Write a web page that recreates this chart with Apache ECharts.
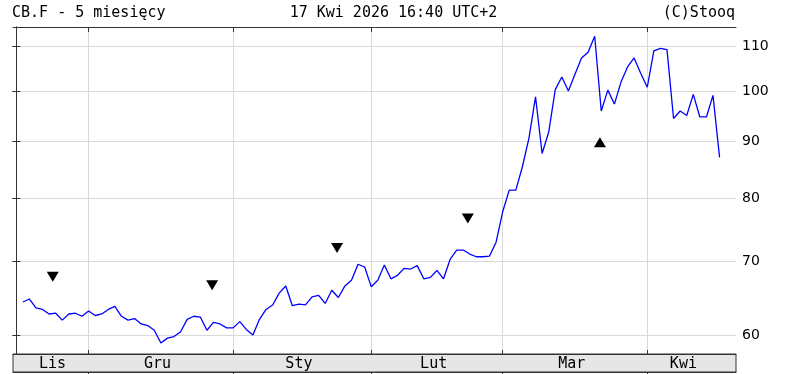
<!DOCTYPE html>
<html><head><meta charset="utf-8">
<script src="https://cdn.jsdelivr.net/npm/echarts@6/dist/echarts.min.js"></script>
<style>html,body{margin:0;padding:0;background:#fff}#c{width:787px;height:374px}</style>
</head><body><div id="c"></div>
<script>
// ---- data ----
const titleText = 'CB.F - 5 miesięcy';
const dateText = '17 Kwi 2026 16:40 UTC+2';
const sourceText = '(C)Stooq';
const monthLabels = ['Lis', 'Gru', 'Sty', 'Lut', 'Mar', 'Kwi'];
const monthCounts = [10, 22, 21, 20, 22, 12];
const prices = [
  64.3, 64.7, 63.5, 63.3, 62.7, 62.8, 61.9, 62.7, 62.8, 62.4,
  63.1, 62.5, 62.7, 63.3, 63.7, 62.4, 61.9, 62.1, 61.4, 61.2,
  60.6, 59.0, 59.6, 59.8, 60.4, 62.0, 62.4, 62.3, 60.6, 61.6,
  61.4, 60.9, 60.9, 61.7, 60.7, 60.0, 62.0, 63.3, 63.9, 65.5,
  66.5, 63.8, 64.0, 63.9, 65.0, 65.2, 64.1, 65.9, 64.9, 66.5,
  67.3, 69.6, 69.2, 66.4, 67.3, 69.5, 67.5, 68.0, 69.0, 68.9,
  69.4, 67.5, 67.7, 68.7, 67.5, 70.3, 71.7, 71.7, 71.1, 70.7,
  70.7, 70.8, 72.9, 77.7, 81.3, 81.3, 85.4, 90.7, 98.9, 87.8,
  91.8, 100.4, 103.1, 100.1, 103.7, 107.3, 108.6, 112.3, 96.0, 100.3,
  97.4, 102.0, 105.3, 107.3, 103.9, 100.9, 108.9, 109.5, 109.2, 94.5,
  96.0, 95.1, 99.4, 94.8, 94.8, 99.2, 87.1
];
const markerPos = [4.55, 28.8, 47.8, 67.7, 87.8];
const markerVals = [67.8, 66.6, 72.0, 76.6, 89.9];
const markerDir = ['down', 'down', 'down', 'down', 'up'];
const yTicks = [60, 70, 80, 90, 100, 110];
const yMin = 57.65, yMax = 114.5;

// ---- derived ----
const padBefore = 1, padAfter = 2;
const total = padBefore + prices.length + padAfter;
const cats = [];
for (let i = 0; i < total; i++) cats.push(String(i));
const monthStartVals = [], monthMidVals = [];
let s = 0;
monthCounts.forEach((n, m) => {
  if (m > 0) monthStartVals.push(s + padBefore);
  monthMidVals.push(s + (n - 1) / 2 + padBefore);
  s += n;
});
const lineData = prices.map((v, i) => [i + padBefore, v]);
const markerData = markerPos.map((p, i) => ({
  value: [p + padBefore, markerVals[i]],
  symbolRotate: markerDir[i] === 'down' ? 180 : 0
}));

const mono = 'DejaVu Sans Mono';
const frame = '#333';
const grid = '#d9d9d9';
const xMin = -0.5, xMax = total - 0.5;

const chart = echarts.init(document.getElementById('c'), null, {renderer: 'canvas'});
chart.setOption({
  animation: false,
  backgroundColor: '#fff',
  title: [
    {text: titleText, left: 12, top: 6, padding: 0, textStyle: {fontFamily: mono, fontSize: 15, fontWeight: 'normal', color: '#000'}},
    {text: dateText, left: 'center', top: 6, padding: 0, textStyle: {fontFamily: mono, fontSize: 15, fontWeight: 'normal', color: '#000'}},
    {text: sourceText, right: 52, top: 6, padding: 0, textStyle: {fontFamily: mono, fontSize: 15, fontWeight: 'normal', color: '#000'}}
  ],
  grid: [
    {left: 13, right: 51, top: 27, height: 327},
    {left: 13, right: 51, top: 354, height: 18, show: true, backgroundColor: '#e6e6e6', borderColor: frame, borderWidth: 1, z: -1}
  ],
  xAxis: [
    {type: 'category', gridIndex: 0, data: cats, boundaryGap: true, show: false},
    {type: 'value', gridIndex: 0, position: 'bottom', min: xMin, max: xMax,
      axisLine: {show: true, lineStyle: {color: frame, width: 1}},
      axisTick: {show: true, inside: true, length: 4, customValues: monthStartVals, lineStyle: {color: frame}},
      splitLine: {show: true, lineStyle: {color: grid, width: 1}},
      axisLabel: {show: true, customValues: monthMidVals, margin: 3,
        fontFamily: mono, fontSize: 15, color: '#000',
        formatter: function (v) {
          let best = 0, d = 1e9;
          monthMidVals.forEach((mv, k) => { if (Math.abs(mv - v) < d) { d = Math.abs(mv - v); best = k; } });
          return monthLabels[best];
        }}
    },
    {type: 'value', gridIndex: 0, position: 'top', min: xMin, max: xMax,
      axisLine: {show: true, lineStyle: {color: frame, width: 1}},
      axisTick: {show: true, inside: true, length: 5, customValues: monthStartVals, lineStyle: {color: frame}},
      axisLabel: {show: false}, splitLine: {show: false}
    },
    {type: 'value', gridIndex: 1, position: 'bottom', min: xMin, max: xMax,
      axisLine: {show: true, lineStyle: {color: frame, width: 1}},
      axisTick: {show: true, inside: false, length: 3, customValues: monthStartVals, lineStyle: {color: frame}},
      axisLabel: {show: false}, splitLine: {show: false}
    }
  ],
  yAxis: [
    {type: 'log', logBase: 10, gridIndex: 0, position: 'right', min: yMin, max: yMax,
      axisLine: {show: true, lineStyle: {color: frame, width: 1}},
      axisTick: {show: true, inside: true, length: 4, customValues: yTicks, lineStyle: {color: frame}},
      axisLabel: {show: true, customValues: yTicks, margin: 6, fontFamily: 'DejaVu Sans', fontSize: 14, color: '#000'},
      splitLine: {show: true, lineStyle: {color: grid, width: 1}}
    },
    {type: 'log', logBase: 10, gridIndex: 0, position: 'left', min: yMin, max: yMax,
      axisLine: {show: true, lineStyle: {color: frame, width: 1}},
      axisTick: {show: true, inside: true, length: 4, customValues: yTicks, lineStyle: {color: frame}},
      axisLabel: {show: false}, splitLine: {show: false}
    },
    {type: 'value', gridIndex: 1, show: false}
  ],
  series: [
    {type: 'line', xAxisIndex: 0, yAxisIndex: 0, data: lineData, symbol: 'none',
      lineStyle: {color: '#0000ff', width: 1.3}, silent: true, z: 3},
    {type: 'scatter', xAxisIndex: 1, yAxisIndex: 0, data: markerData, symbol: 'triangle',
      symbolSize: [12, 10], itemStyle: {color: '#000', opacity: 1}, silent: true, z: 4}
  ]
});
</script>
</body></html>
